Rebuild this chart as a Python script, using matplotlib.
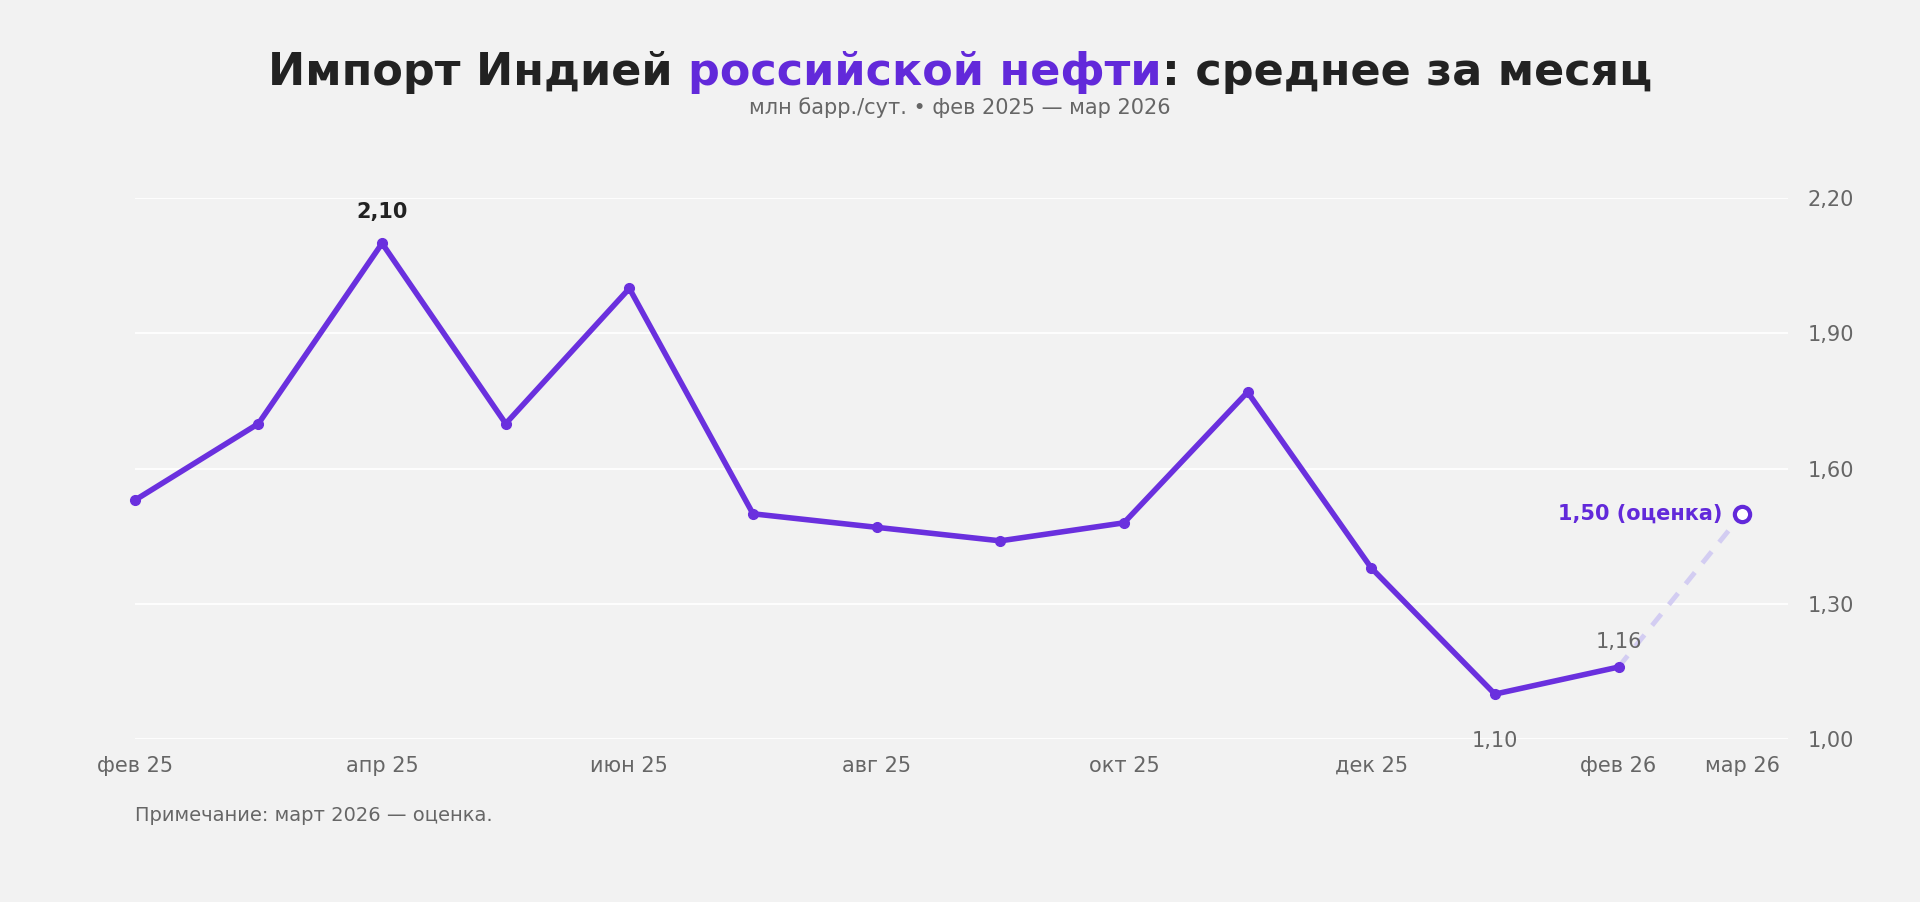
import matplotlib
matplotlib.use("Agg")
import matplotlib.pyplot as plt

months = ["фев 25","мар 25","апр 25","май 25","июн 25","июл 25","авг 25","сен 25","окт 25","ноя 25","дек 25","янв 26","фев 26","мар 26"]
values = [1.53,1.70,2.10,1.70,2.00,1.50,1.47,1.44,1.48,1.77,1.38,1.10,1.16]
estimate = 1.50
tick_idx = [0,2,4,6,8,10,12,13]
yticks = [1.0,1.3,1.6,1.9,2.2]

BG = "#f2f2f2"; PUR = "#6229da"; LINE = "#6a30de"
fig = plt.figure(figsize=(19.2,9.02), dpi=100, facecolor=BG)
ax = fig.add_axes([0.0702,0.1805,0.861,0.5997], facecolor=BG)
x = list(range(len(values)))
ax.plot(x, values, color=LINE, lw=4, marker="o", ms=7, zorder=3, clip_on=False)
ax.plot([12,13],[values[-1],estimate], color="#d3cdf2", lw=3.5, ls=(0,(3,2.5)), zorder=2)
ax.plot([13],[estimate], marker="o", ms=11, mfc="white", mec=PUR, mew=3, zorder=4, clip_on=False)
ax.set_xlim(0,13.37); ax.set_ylim(1.0,2.2)
ax.set_yticks(yticks); ax.set_yticklabels([f"{v:.2f}".replace(".",",") for v in yticks])
ax.yaxis.tick_right()
ax.set_xticks(tick_idx); ax.set_xticklabels([months[i] for i in tick_idx])
ax.tick_params(length=0, labelsize=15, labelcolor="#666666", pad=12)
ax.tick_params(axis="y", pad=14)
ax.grid(axis="y", color="white", lw=1.3); ax.grid(axis="x", visible=False)
for s in ax.spines.values(): s.set_visible(False)
ax.annotate("2,10",(2,2.10),xytext=(0,18),textcoords="offset points",ha="center",fontsize=15,fontweight="bold",color="#222222")
ax.annotate("1,10",(11,1.10),xytext=(0,-38),textcoords="offset points",ha="center",fontsize=15,color="#666666")
ax.annotate("1,16",(12,1.16),xytext=(0,14),textcoords="offset points",ha="center",fontsize=15,color="#666666")
ax.annotate("1,50 (оценка)",(13,estimate),xytext=(-14,0),textcoords="offset points",ha="right",va="center",fontsize=15,fontweight="bold",color=PUR)

parts = [("Импорт Индией ","#222222"),("российской нефти",PUR),(": среднее за месяц","#222222")]
fig.canvas.draw(); r = fig.canvas.get_renderer()
texts=[]; W=0
for s,c in parts:
    t = fig.text(0,0.906,s,fontsize=32,fontweight="bold",color=c,ha="left",va="baseline")
    W += t.get_window_extent(r).width; texts.append(t)
xpos = (fig.bbox.width - W)/2
for t in texts:
    t.set_x(xpos/fig.bbox.width); xpos += t.get_window_extent(r).width
fig.text(0.5,0.881,"млн барр./сут. • фев 2025 — мар 2026",ha="center",va="center",fontsize=15,color="#666666")
fig.text(0.0702,0.096,"Примечание: март 2026 — оценка.",ha="left",va="center",fontsize=14,color="#666666")
fig.savefig("out.png", facecolor=BG)
